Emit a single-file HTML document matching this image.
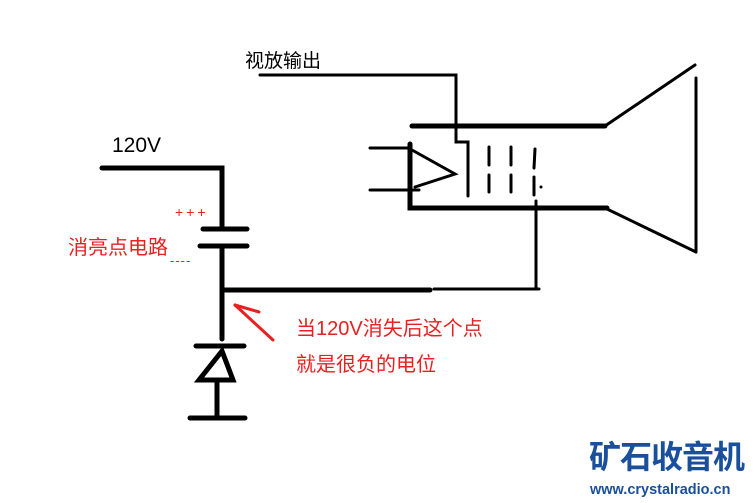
<!DOCTYPE html>
<html><head><meta charset="utf-8"><style>
body{margin:0;background:#fff;width:756px;height:503px;overflow:hidden;position:relative;font-family:"Liberation Sans","Noto Sans CJK SC",sans-serif}
.t{position:absolute;white-space:nowrap;line-height:1}
</style></head><body>
<svg width="756" height="503" style="position:absolute;left:0;top:0" stroke="#000" fill="none" stroke-linecap="round">
<g stroke-width="3">
<polyline points="260,75 456,75 456,142 468,142 468,196"/>
<line x1="370" y1="148" x2="410" y2="148"/>
<line x1="370" y1="190" x2="419" y2="190"/>
<polyline points="412,150 455,174 415,187"/>
<line x1="489" y1="147" x2="489" y2="165"/><line x1="489" y1="175" x2="489" y2="192"/>
<line x1="511" y1="147" x2="511" y2="165"/><line x1="511" y1="175" x2="511" y2="192"/>
<line x1="535" y1="149" x2="534" y2="168"/><line x1="534" y1="177" x2="534" y2="195"/>
<line x1="536" y1="201" x2="536" y2="289"/>
<line x1="434" y1="289" x2="539" y2="289"/>
<polyline points="605,126 695,65"/>
<line x1="696" y1="78" x2="696" y2="252"/>
<polyline points="607,209 696,252"/>
</g>
<circle cx="541" cy="187" r="1.5" fill="#000" stroke="none"/>
<g stroke-width="5">
<line x1="412" y1="126" x2="605" y2="126"/>
<polyline points="410,144 410,208 607,208"/>
<polyline points="102,168 222,168 222,228"/>
<line x1="203" y1="229" x2="247" y2="229"/>
<line x1="200" y1="246" x2="247" y2="246"/>
<line x1="222" y1="246" x2="222" y2="339"/>
<line x1="222" y1="290" x2="430" y2="290"/>
<line x1="196" y1="346" x2="244" y2="346"/>
<polygon points="222,351 199,380 233,380"/>
<line x1="217" y1="380" x2="217" y2="418"/>
<line x1="190" y1="418" x2="245" y2="418"/>
</g>
<g stroke="#e82020" stroke-width="3">
<line x1="273" y1="340" x2="235" y2="305"/>
<line x1="235" y1="305" x2="259" y2="312"/>
</g>
</svg>
<div class="t" style="left:245px;top:52px;font-size:19px">视放输出</div>
<div class="t" style="left:112px;top:135px;font-size:21px">120V</div>
<div class="t" style="left:175px;top:205px;font-size:14px;color:#e82020;letter-spacing:3px">+++</div>
<div class="t" style="left:68px;top:238px;font-size:20px;color:#e82020">消亮点电路</div>
<div class="t" style="left:170px;top:254px;font-size:13px;color:#e82020;letter-spacing:1px">----</div>
<div class="t" style="left:296px;top:319px;font-size:20px;color:#e82020">当120V消失后这个点</div>
<div class="t" style="left:296px;top:355px;font-size:20px;color:#e82020">就是很负的电位</div>
<div class="t" style="left:589px;top:441px;font-size:32px;font-weight:bold;color:#1a4f9c;letter-spacing:-1px">矿石收音机</div>
<div class="t" style="left:590px;top:483px;font-size:14.5px;font-weight:bold;color:#1a4f9c">www.crystalradio.cn</div>
</body></html>
